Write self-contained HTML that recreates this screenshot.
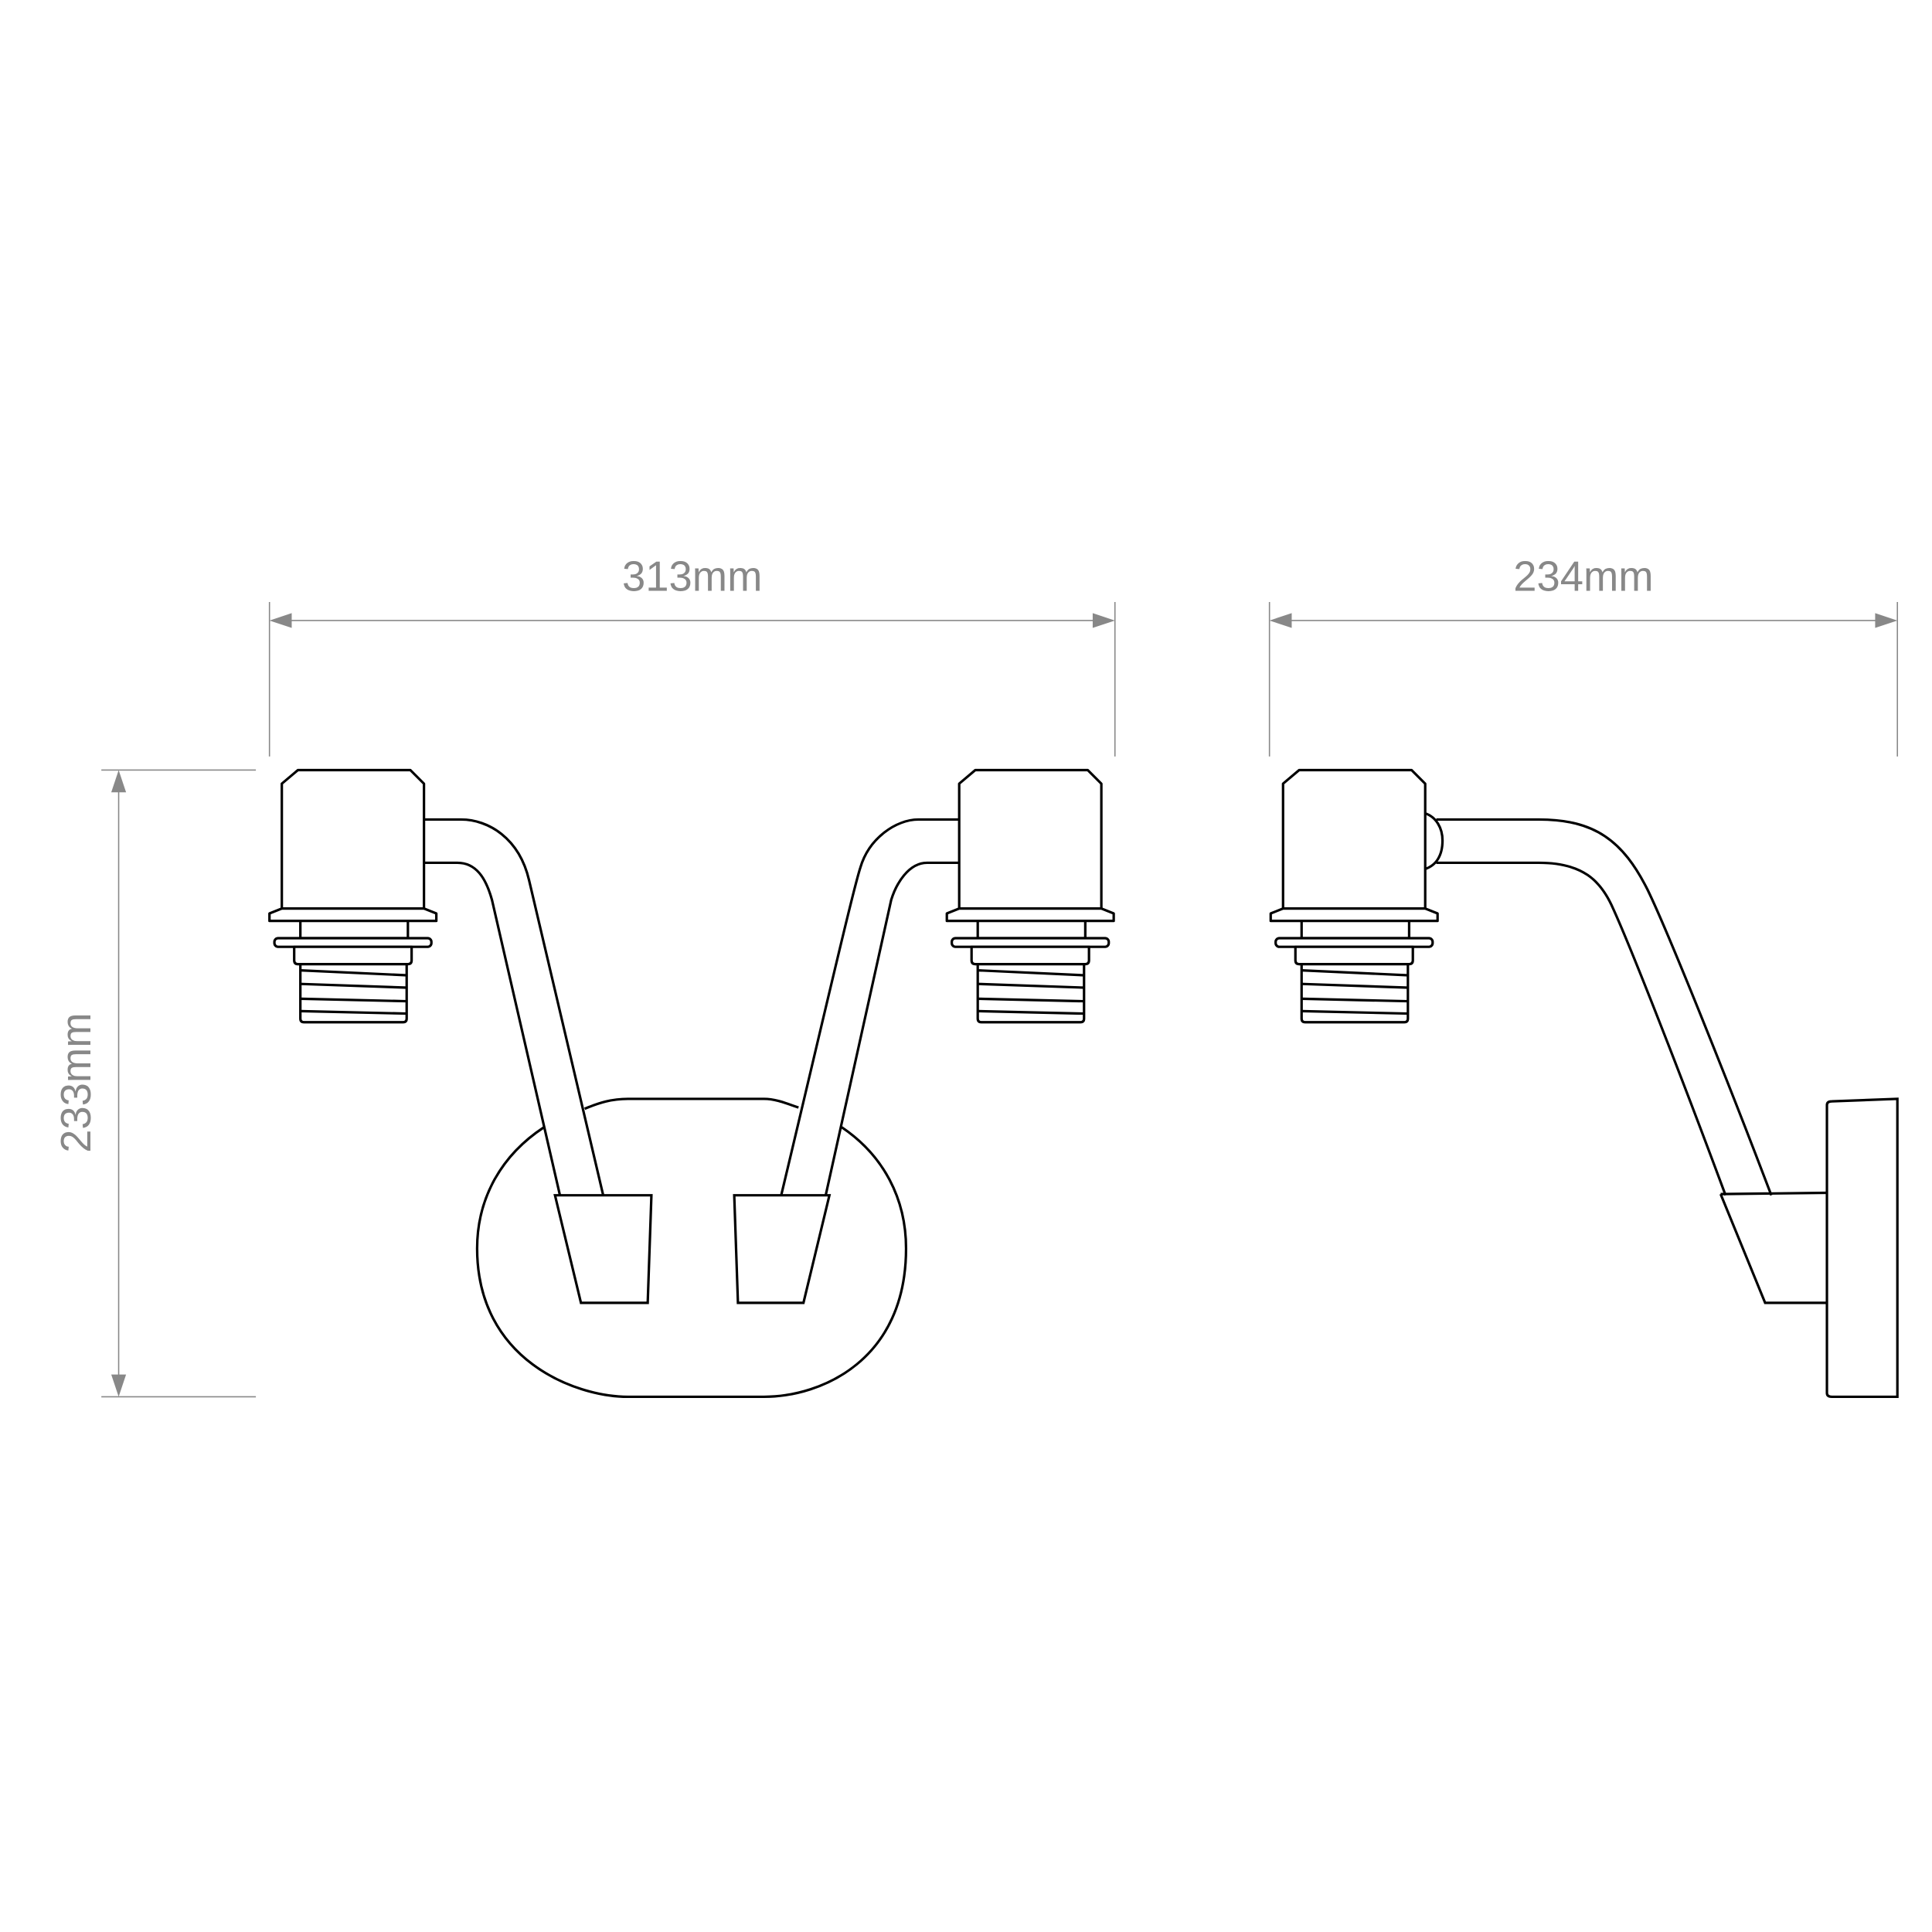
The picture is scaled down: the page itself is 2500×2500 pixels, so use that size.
<!DOCTYPE html>
<html><head><style>html,body{margin:0;padding:0;background:#fff;width:2500px;height:2500px;overflow:hidden}</style></head>
<body>
<svg width="2500" height="2500" viewBox="0 0 1563 1563" xmlns="http://www.w3.org/2000/svg">
<defs>
<g id="holder" fill="#fff" stroke="#000" stroke-width="2" stroke-linejoin="round">
<path d="M228,735 L228,634 L241,623 L332,623 L343,634 L343,735 Z"/>
<path d="M228,735 L343,735 L353,739 L353,745 L218,745 L218,739 Z"/>
<rect x="243" y="745" width="87" height="14"/>
<rect x="222" y="759" width="127" height="7" rx="3"/>
<path d="M238,766 L333,766 L333,777 Q333,780 330,780 L241,780 Q238,780 238,777 Z"/>
<path d="M243,780 L329,780 L329,824 Q329,827 326,827 L246,827 Q243,827 243,824 Z"/>
<path d="M243,785 L329,789 M243,796 L329,799 M243,808 L329,810 M243,818 L329,820" fill="none"/>
</g>
</defs>
<g fill="none" stroke="#000" stroke-width="2">
<path d="M473,897 C485,892 495,889 508,889 L618,889 C628,889 637,893 646,896"/>
<path d="M440,912 C405,935 386,970 386,1010 C386,1100 465,1130 508,1130 L618,1130 C665,1130 733,1100 733,1010 C733,970 715,935 681,912"/>
<path d="M343,663 L373,663 C395,663 420,678 428,712 L488,967"/>
<path d="M343,698 L370,698 C385,698 393,710 398,728 L453,967"/>
<path d="M776,663 L743,663 C725,663 703,678 696,702 C690,720 660,850 632,967"/>
<path d="M776,698 L750,698 C735,698 725,715 721,728 L668,967"/>
<path d="M449,967 L527,967 L524,1054 L470,1054 Z" fill="#fff"/>
<path d="M594,967 L671,967 L650,1054 L597,1054 Z" fill="#fff"/>
<path d="M1153,658 C1162,661 1167,670 1167,680 C1167,692 1162,700 1153,703"/>
<path d="M1162,663 L1245,663 C1290,663 1313,680 1333,720 C1350,755 1400,880 1433,967"/>
<path d="M1162,698 L1245,698 C1280,698 1295,712 1305,735 C1320,768 1360,870 1396,967"/>
<path d="M1392,966 L1478,965 M1392,966 L1428,1054 L1478,1054"/>
<path d="M1478,894 Q1478,891 1482,891 L1535,889 L1535,1130 L1482,1130 Q1478,1130 1478,1127 Z"/>
</g>
<use href="#holder"/>
<use href="#holder" transform="translate(548,0)"/>
<use href="#holder" transform="translate(810,0)"/>
<g stroke="#888" stroke-width="1" fill="none">
<path d="M218,487 L218,612 M902,487 L902,612 M230,502 L890,502"/>
<path d="M1027,487 L1027,612 M1535,487 L1535,612 M1039,502 L1523,502"/>
<path d="M82,623 L207,623 M82,1130 L207,1130 M96,635 L96,1118"/>
</g>
<g fill="#888">
<path d="M218,502 L236,496 L236,508 Z"/><path d="M902,502 L884,496 L884,508 Z"/>
<path d="M1027,502 L1045,496 L1045,508 Z"/><path d="M1535,502 L1517,496 L1517,508 Z"/>
<path d="M96,623 L90,641 L102,641 Z"/><path d="M96,1130 L90,1112 L102,1112 Z"/>
</g>
<g fill="#888" font-family="Liberation Sans, sans-serif" font-size="34" text-anchor="middle">
<text x="560" y="478">313mm</text>
<text x="1281" y="478">234mm</text>
<text transform="translate(73,876) rotate(-90)">233mm</text>
</g>
</svg>
</body></html>
